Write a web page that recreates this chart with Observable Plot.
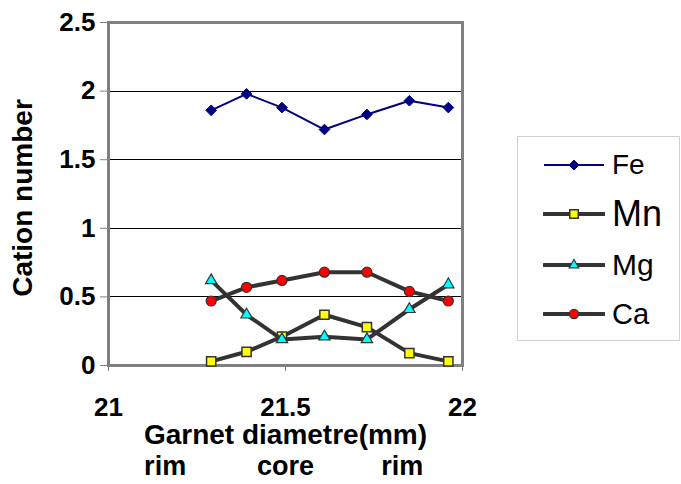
<!DOCTYPE html>
<html>
<head>
<meta charset="utf-8">
<script src="https://cdn.jsdelivr.net/npm/d3@7"></script>
<script src="https://cdn.jsdelivr.net/npm/@observablehq/plot@0.6"></script>
<style>
  html, body { margin: 0; padding: 0; background: #fff; }
  #wrap { position: relative; width: 681px; height: 484px; font-family: "Liberation Sans", Arial, sans-serif; }
  #legend { position: absolute; left: 517px; top: 136px; width: 163px; height: 205px; border: 1px solid #d0d0d0; box-sizing: border-box; background: #fff; }
  .row { position: absolute; left: 0; height: 40px; display: flex; align-items: center; }
  .row svg { margin-left: 25px; }
  .row span { margin-left: 7px; color: #000; }
</style>
</head>
<body>
<div id="wrap"></div>
<script>
// ---- data ----
const positions = [21.29, 21.39, 21.49, 21.61, 21.73, 21.85, 21.96]; // Garnet diametre (mm)
const fe = [1.86, 1.98, 1.88, 1.72, 1.83, 1.93, 1.88];
const mn = [0.03, 0.10, 0.21, 0.37, 0.28, 0.09, 0.03];
const mg = [0.62, 0.37, 0.19, 0.21, 0.19, 0.41, 0.59];
const ca = [0.47, 0.57, 0.62, 0.68, 0.68, 0.54, 0.47];
const seriesNames = ["Fe", "Mn", "Mg", "Ca"];
const xTicks = [21, 21.5, 22];
const yTicks = [0, 0.5, 1, 1.5, 2, 2.5];
const gridLines = [0.5, 1, 1.5, 2];
const zoneLabels = ["rim", "core", "rim"];
const zonePositions = [21.16, 21.5, 21.83];
const xTitle = "Garnet diametre(mm)";
const yTitle = "Cation number";

const seriesValues = {Fe: fe, Mn: mn, Mg: mg, Ca: ca};
const styles = {
  Fe: {line: "#000080", width: 2, symbol: "diamond2", fill: "#000080", stroke: "#000080", r: 4.8, sw: 1},
  Mn: {line: "#333333", width: 4, symbol: "square", fill: "#ffff00", stroke: "#333333", r: 5.2, sw: 1.5},
  Mg: {line: "#333333", width: 4, symbol: "triangle", fill: "#00ffff", stroke: "#333333", r: 4.2, sw: 1.2},
  Ca: {line: "#333333", width: 4, symbol: "circle", fill: "#ff0000", stroke: "#333333", r: 5, sw: 1.2}
};

const font = "Liberation Sans, Arial, sans-serif";
const marks = [
  Plot.ruleY(gridLines, {stroke: "#000", strokeWidth: 1, shapeRendering: "crispEdges"}),
  Plot.frame({stroke: "#808080", strokeWidth: 3}),
  Plot.axisY(yTicks, {tickSize: 8, tickPadding: 5, stroke: "#808080", fontSize: 26, fontWeight: "bold", fontFamily: font, fill: "#000", label: null, tickFormat: d => String(d)}),
  Plot.axisX(xTicks, {tickSize: 6, tickPadding: 26, stroke: "#808080", fontSize: 26, fontWeight: "bold", fontFamily: font, fill: "#000", label: null, tickFormat: d => String(d)}),
  Plot.text([xTitle], {frameAnchor: "bottom", dy: 70, fontSize: 28, fontWeight: "bold", fontFamily: font, fill: "#000", letterSpacing: "1px", lineAnchor: "middle"}),
  Plot.text(zoneLabels, {x: (d, i) => zonePositions[i], frameAnchor: "bottom", dy: 101, fontSize: 27, fontWeight: "bold", fontFamily: font, fill: "#000", lineAnchor: "middle"}),
  Plot.text([yTitle], {frameAnchor: "left", textAnchor: "middle", dx: -85, dy: 4, rotate: -90, fontSize: 28, fontWeight: "bold", fontFamily: font, fill: "#000", lineAnchor: "middle"})
];
for (const name of seriesNames) {
  const s = styles[name];
  const rows = positions.map((x, i) => ({x, y: seriesValues[name][i]}));
  marks.push(Plot.line(rows, {x: "x", y: "y", stroke: s.line, strokeWidth: s.width, strokeLinejoin: "round", strokeLinecap: "round"}));
  marks.push(Plot.dot(rows, {x: "x", y: "y", symbol: () => s.symbol, fill: s.fill, stroke: s.stroke, strokeWidth: s.sw, r: s.r}));
}

const chart = Plot.plot({
  width: 681,
  height: 484,
  marginLeft: 108,
  marginRight: 219,
  marginTop: 22,
  marginBottom: 119,
  x: {domain: [21, 22]},
  y: {domain: [0, 2.5]},
  symbol: {type: "identity"},
  style: {background: "#fff", fontFamily: font, overflow: "visible"},
  marks
});
const wrap = document.getElementById("wrap");
wrap.appendChild(chart);

// ---- legend ----
const legend = document.createElement("div");
legend.id = "legend";
const rowTops = [8, 57, 108, 157];
const textSizes = {Fe: 28, Mn: 36, Mg: 30, Ca: 29};
seriesNames.forEach((name, i) => {
  const s = styles[name];
  const row = document.createElement("div");
  row.className = "row";
  row.style.top = rowTops[i] + "px";
  const svg = d3.create("svg").attr("width", 62).attr("height", 20);
  svg.append("line").attr("x1", 1).attr("x2", 61).attr("y1", 10).attr("y2", 10)
    .attr("stroke", s.line).attr("stroke-width", s.width).attr("stroke-linecap", name === "Fe" ? "butt" : "round");
  const symMap = {diamond2: d3.symbolDiamond2, square: d3.symbolSquare, triangle: d3.symbolTriangle, circle: d3.symbolCircle};
  const scale = name === "Mg" ? 0.85 : 0.92;
  svg.append("path").attr("transform", "translate(31,10)")
    .attr("d", d3.symbol(symMap[s.symbol], Math.PI * (s.r * scale) ** 2)())
    .attr("fill", s.fill).attr("stroke", s.stroke).attr("stroke-width", s.sw);
  row.appendChild(svg.node());
  const label = document.createElement("span");
  label.textContent = name;
  label.style.fontSize = textSizes[name] + "px";
  row.appendChild(label);
  legend.appendChild(row);
});
wrap.appendChild(legend);
</script>
</body>
</html>
